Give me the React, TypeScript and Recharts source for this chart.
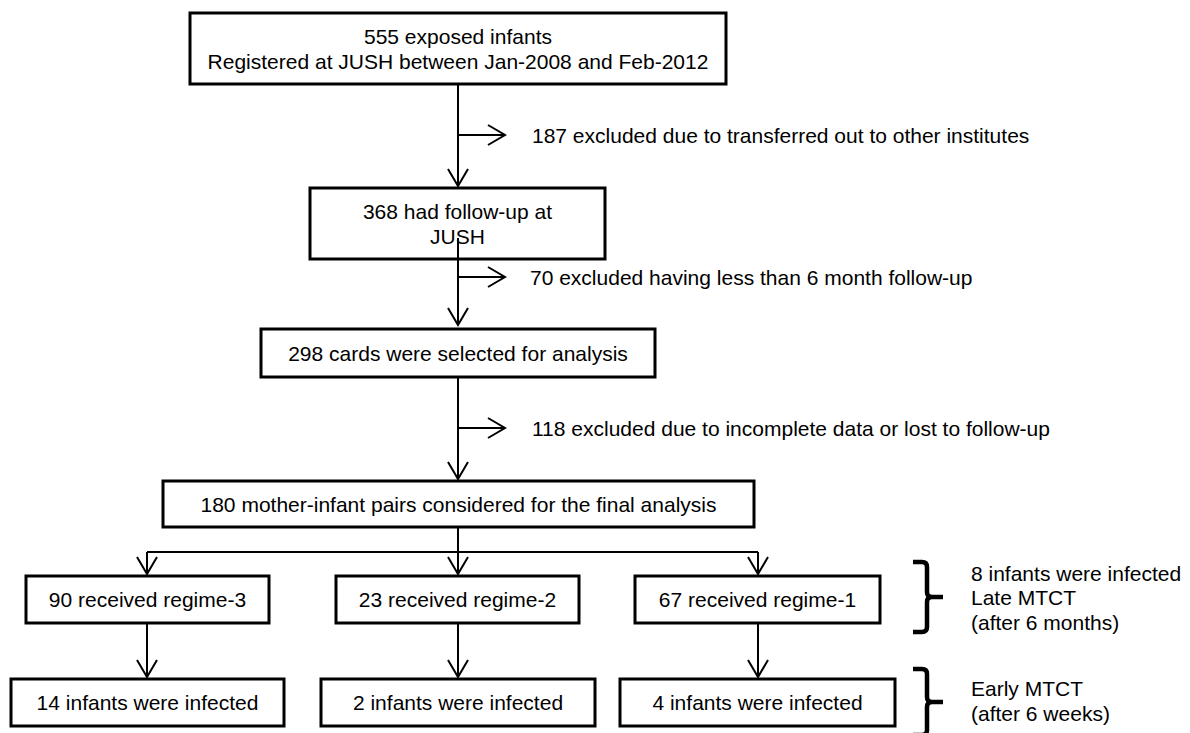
import React from 'react';
import { ScatterChart, Scatter, XAxis, YAxis, ReferenceArea, ReferenceLine } from 'recharts';

const W = 1190;
const H = 733;
const FONT = '"Liberation Sans", Arial, Helvetica, sans-serif';
const FS = 21;

// Flow-chart nodes (diagram coordinates, x: 0..1190, y: 0..733 top-down)
const boxes = [
  { lines: ['555 exposed infants', 'Registered at JUSH between Jan-2008 and Feb-2012'], x1: 190, x2: 726, y1: 13, y2: 84 },
  { lines: ['368 had follow-up at', 'JUSH'], x1: 310, x2: 605, y1: 188, y2: 259 },
  { lines: ['298 cards were selected for analysis'], x1: 261, x2: 655, y1: 329, y2: 377 },
  { lines: ['180 mother-infant pairs considered for the final analysis'], x1: 163, x2: 754, y1: 481, y2: 527 },
  { lines: ['90 received regime-3'], x1: 26, x2: 269, y1: 576, y2: 623 },
  { lines: ['23 received regime-2'], x1: 336, x2: 579, y1: 576, y2: 623 },
  { lines: ['67 received regime-1'], x1: 635, x2: 880, y1: 576, y2: 623 },
  { lines: ['14 infants were infected'], x1: 11, x2: 284, y1: 679, y2: 726 },
  { lines: ['2 infants were infected'], x1: 321, x2: 595, y1: 679, y2: 726 },
  { lines: ['4 infants were infected'], x1: 620, x2: 895, y1: 679, y2: 726 },
];

const links = [
  { x1: 458, y1: 84, x2: 458, y2: 186 },
  { x1: 458, y1: 135, x2: 505, y2: 135 },
  { x1: 458, y1: 259, x2: 458, y2: 325 },
  { x1: 458, y1: 277, x2: 505, y2: 277 },
  { x1: 458, y1: 377, x2: 458, y2: 479 },
  { x1: 458, y1: 428, x2: 505, y2: 428 },
  { x1: 458, y1: 527, x2: 458, y2: 574 },
  { x1: 147, y1: 552, x2: 758, y2: 552 },
  { x1: 147, y1: 552, x2: 147, y2: 574 },
  { x1: 758, y1: 552, x2: 758, y2: 574 },
  { x1: 147, y1: 623, x2: 147, y2: 677 },
  { x1: 458, y1: 623, x2: 458, y2: 677 },
  { x1: 758, y1: 623, x2: 758, y2: 677 },
];

// segment that starts inside the "368 had follow-up" box and crosses its text
const overlayLinks = [{ x1: 458, y1: 238, x2: 458, y2: 260 }];

const arrowTips = [
  { x: 458, y: 186, dir: 'down' },
  { x: 505, y: 135, dir: 'right' },
  { x: 458, y: 325, dir: 'down' },
  { x: 505, y: 277, dir: 'right' },
  { x: 458, y: 479, dir: 'down' },
  { x: 505, y: 428, dir: 'right' },
  { x: 458, y: 574, dir: 'down' },
  { x: 147, y: 574, dir: 'down' },
  { x: 758, y: 574, dir: 'down' },
  { x: 147, y: 677, dir: 'down' },
  { x: 458, y: 677, dir: 'down' },
  { x: 758, y: 677, dir: 'down' },
];

const notes = [
  { x: 532, y: 135, text: '187 excluded due to transferred out to other institutes' },
  { x: 530, y: 277, text: '70 excluded having less than 6 month follow-up' },
  { x: 532, y: 428, text: '118 excluded due to incomplete data or lost to follow-up' },
  { x: 971, y: 573, text: '8 infants were infected' },
  { x: 971, y: 597, text: 'Late MTCT' },
  { x: 971, y: 622, text: '(after 6 months)' },
  { x: 971, y: 688, text: 'Early MTCT' },
  { x: 971, y: 713, text: '(after 6 weeks)' },
];

const braces = [
  { x1: 913, x2: 943, y1: 560, y2: 634 },
  { x1: 913, x2: 943, y1: 667, y2: 737 },
];

const BoxShape = (p: any) => {
  const { x, y, width, height, lines } = p;
  const cx = x + width / 2;
  const cy = y + height / 2;
  const lh = 25;
  const start = cy - ((lines.length - 1) * lh) / 2;
  return (
    <g>
      <rect x={x} y={y} width={width} height={height} fill="#fff" stroke="#000" strokeWidth={3} />
      <text x={cx} textAnchor="middle" fontFamily={FONT} fontSize={FS} fill="#000">
        {lines.map((l: string, i: number) => (
          <tspan key={i} x={cx} y={start + i * lh} dy="0.36em">
            {l}
          </tspan>
        ))}
      </text>
    </g>
  );
};

const BraceShape = (p: any) => {
  const { x, y, width, height } = p;
  const vx = x + 14;
  const cy = y + height / 2;
  const r = 5;
  const t = y + 2;
  const b = y + height - 2;
  const d = `M ${x} ${t} L ${vx - r} ${t} Q ${vx} ${t} ${vx} ${t + r} L ${vx} ${cy - r} Q ${vx} ${cy} ${vx + r} ${cy} L ${x + width} ${cy} M ${vx + r} ${cy} Q ${vx} ${cy} ${vx} ${cy + r} L ${vx} ${b - r} Q ${vx} ${b} ${vx - r} ${b} L ${x} ${b}`;
  return <path d={d} fill="none" stroke="#000" strokeWidth={4.5} strokeLinejoin="round" />;
};

const ArrowHead = (p: any) => {
  const { cx, cy, payload } = p;
  const L = 17;
  const hw = 10;
  const d =
    payload.dir === 'down'
      ? `M ${cx - hw} ${cy - L} L ${cx} ${cy} L ${cx + hw} ${cy - L}`
      : `M ${cx - L} ${cy - hw} L ${cx} ${cy} L ${cx - L} ${cy + hw}`;
  return <path d={d} fill="none" stroke="#000" strokeWidth={2} />;
};

const NoteText = (p: any) => {
  const { cx, cy, payload } = p;
  return (
    <text x={cx} y={cy} dy="0.36em" textAnchor="start" fontFamily={FONT} fontSize={FS} fill="#000">
      {payload.text}
    </text>
  );
};

export default function App() {
  return (
    <div style={{ position: 'absolute', left: 0, top: 0, width: W, height: H, background: '#fff' }}>
      <ScatterChart width={W} height={H} margin={{ top: 0, right: 0, bottom: 0, left: 0 }}>
        <XAxis type="number" dataKey="x" domain={[0, W]} hide allowDataOverflow />
        <YAxis type="number" dataKey="y" domain={[0, H]} reversed hide allowDataOverflow />
        {links.map((s, i) => (
          <ReferenceLine
            key={`l${i}`}
            segment={[{ x: s.x1, y: s.y1 }, { x: s.x2, y: s.y2 }]}
            stroke="#000"
            strokeWidth={2}
            ifOverflow="visible"
          />
        ))}
        {boxes.map((b, i) => (
          <ReferenceArea
            key={`b${i}`}
            x1={b.x1}
            x2={b.x2}
            y1={b.y1}
            y2={b.y2}
            ifOverflow="visible"
            shape={(p: any) => <BoxShape {...p} lines={b.lines} />}
          />
        ))}
        {overlayLinks.map((s, i) => (
          <ReferenceLine
            key={`o${i}`}
            segment={[{ x: s.x1, y: s.y1 }, { x: s.x2, y: s.y2 }]}
            stroke="#000"
            strokeWidth={2}
            ifOverflow="visible"
          />
        ))}
        {braces.map((b, i) => (
          <ReferenceArea
            key={`r${i}`}
            x1={b.x1}
            x2={b.x2}
            y1={b.y1}
            y2={b.y2}
            ifOverflow="visible"
            shape={(p: any) => <BraceShape {...p} />}
          />
        ))}
        <Scatter data={arrowTips} isAnimationActive={false} shape={(p: any) => <ArrowHead {...p} />} />
        <Scatter data={notes} isAnimationActive={false} shape={(p: any) => <NoteText {...p} />} />
      </ScatterChart>
    </div>
  );
}
